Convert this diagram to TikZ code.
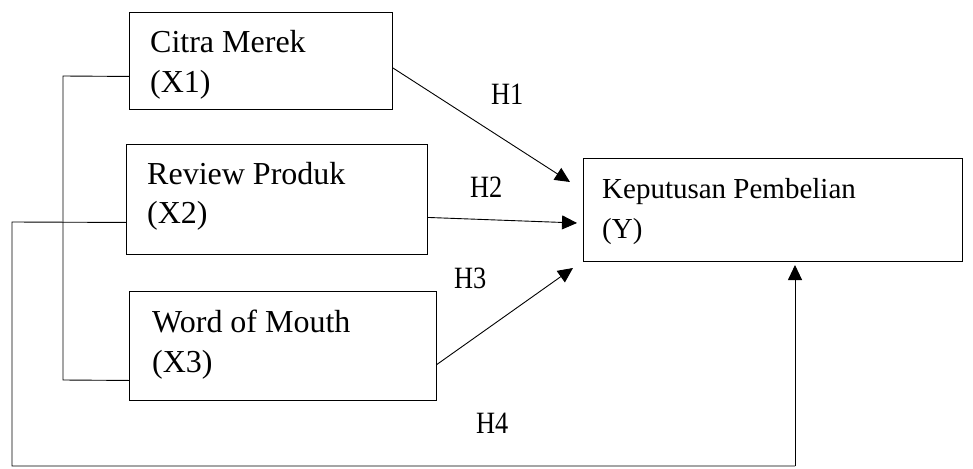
\documentclass[tikz,border=0pt]{standalone}
\usepackage{fontspec}
\setmainfont{Liberation Serif}
\usetikzlibrary{arrows.meta}
\tikzset{
  box/.style={draw, line width=0.9pt, rectangle, inner sep=0pt, anchor=north west},
  txt/.style={anchor=base west, inner sep=0pt, font=\fontsize{32}{38}\selectfont},
  ytxt/.style={anchor=base west, inner sep=0pt, font=\fontsize{29}{35}\selectfont},
  hlab/.style={anchor=base west, inner sep=0pt, font=\fontsize{31}{36}\selectfont},
  conn/.style={line width=0.9pt},
  arr/.style={line width=0.9pt, -{Triangle[length=15pt,width=14pt]}},
}
\begin{document}
\begin{tikzpicture}[x=1pt,y=-1pt]
\useasboundingbox (0,0) rectangle (973,468);
% boxes
\node[box, minimum width=263pt, minimum height=97pt] (x1) at (129,12) {};
\node[box, minimum width=301pt, minimum height=110pt] (x2) at (126,144) {};
\node[box, minimum width=307pt, minimum height=109pt] (x3) at (129,291) {};
\node[box, minimum width=379pt, minimum height=103pt] (y) at (583,158) {};
% texts
\node[txt] (x1a) at (150,53) {Citra Merek};
\node[txt] (x1b) at (150,93) {(X1)};
\node[txt] (x2a) at (147,184) {Review Produk};
\node[txt] (x2b) at (147,223) {(X2)};
\node[txt] (x3a) at (152,332) {Word of Mouth};
\node[txt] (x3b) at (152,372) {(X3)};
\node[ytxt] (ya) at (602,198) {Keputusan Pembelian};
\node[ytxt] (yb) at (602,238) {(Y)};
% hypothesis labels
\node[hlab] (h1) at (491,104) {\scalebox{0.85}[1]{H1}};
\node[hlab] (h2) at (470,197) {\scalebox{0.85}[1]{H2}};
\node[hlab] (h3) at (454,288) {\scalebox{0.85}[1]{H3}};
\node[hlab] (h4) at (476,433) {\scalebox{0.85}[1]{H4}};
% arrow tips
\coordinate (t1) at (570,182);
\coordinate (t2) at (577,223);
\coordinate (t3) at (573,268);
\coordinate (t4) at (795,265);
\coordinate (b1) at (63,76);
\coordinate (b2) at (63,380);
\coordinate (c1) at (12,222);
\coordinate (c2) at (12,466);
\coordinate (c3) at (795,466);
% arrows
\draw[arr] ([yshift=-7pt]x1.east) -- (t1);
\draw[arr] ([yshift=-18pt]x2.east) -- (t2);
\draw[arr] ([yshift=-18.5pt]x3.east) -- (t3);
% left bracket X1-X3
\draw[conn] ([yshift=-15.5pt]x1.west) -- (b1) -- (b2) -- ([yshift=-34.5pt]x3.west);
% X2 to Y (H4)
\draw[conn] ([yshift=-23pt]x2.west) -- (c1) -- (c2) -- (c3);
\draw[arr] (c3) -- (t4);
\end{tikzpicture}
\end{document}
